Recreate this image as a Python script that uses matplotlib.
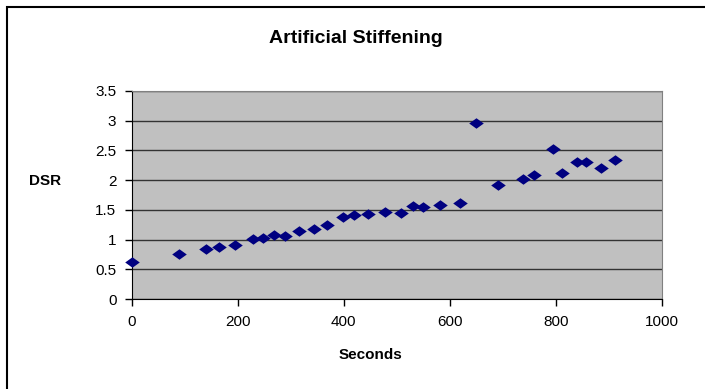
import matplotlib.pyplot as plt
from matplotlib.patches import Rectangle

# datos
segundos = [0, 90, 140, 165, 194, 228, 248, 269, 290, 315, 344, 368, 398, 419, 445,
            478, 509, 530, 549, 582, 619, 649, 692, 739, 759, 794, 811, 840, 857, 885, 912]
dsr = [0.63, 0.76, 0.84, 0.88, 0.91, 1.01, 1.03, 1.08, 1.07, 1.15, 1.18, 1.24, 1.38, 1.41, 1.43,
       1.47, 1.45, 1.57, 1.55, 1.58, 1.62, 2.95, 1.92, 2.02, 2.09, 2.52, 2.12, 2.31, 2.31, 2.21, 2.34]

x_ticks = [0, 200, 400, 600, 800, 1000]
y_ticks = [0, 0.5, 1, 1.5, 2, 2.5, 3, 3.5]
y_labels = ["0", "0.5", "1", "1.5", "2", "2.5", "3", "3.5"]

plt.rcParams['font.family'] = ['Liberation Sans', 'DejaVu Sans']

fig = plt.figure(figsize=(7.05, 3.89), dpi=100)
ax = fig.add_axes([0.1868, 0.2306, 0.7518, 0.5362])

# marco exterior
fig.patches.append(Rectangle((7 / 705, -0.05), 1.1, 1 - 7 / 389 + 0.05, transform=fig.transFigure,
                             fill=False, edgecolor='black', linewidth=1.5))

ax.set_facecolor('#C0C0C0')
ax.set_xlim(0, 1000)
ax.set_ylim(0, 3.5)
ax.set_xticks(x_ticks)
ax.set_yticks(y_ticks)
ax.set_yticklabels(y_labels)
ax.grid(axis='y', color='#333333', linewidth=1)
ax.set_axisbelow(True)

rombo = [(-1, 0), (0, 0.72), (1, 0), (0, -0.72), (-1, 0)]
ax.scatter(segundos, dsr, marker=rombo, s=110, color='#000080', zorder=3, linewidths=0,
           clip_on=False)

for lado in ['top', 'right']:
    ax.spines[lado].set_color('#808080')
for lado in ['left', 'bottom']:
    ax.spines[lado].set_color('black')
ax.tick_params(direction='out', length=5, width=1, labelsize=11, pad=6)

fig.text(0.505, 0.9, "Artificial Stiffening", ha='center', va='center',
         fontsize=14, fontweight='bold')
fig.text(0.064, 0.535, "DSR", ha='center', va='center', fontsize=11, fontweight='bold')
fig.text(0.525, 0.087, "Seconds", ha='center', va='center', fontsize=11, fontweight='bold')

fig.savefig("out.png", dpi=100)
